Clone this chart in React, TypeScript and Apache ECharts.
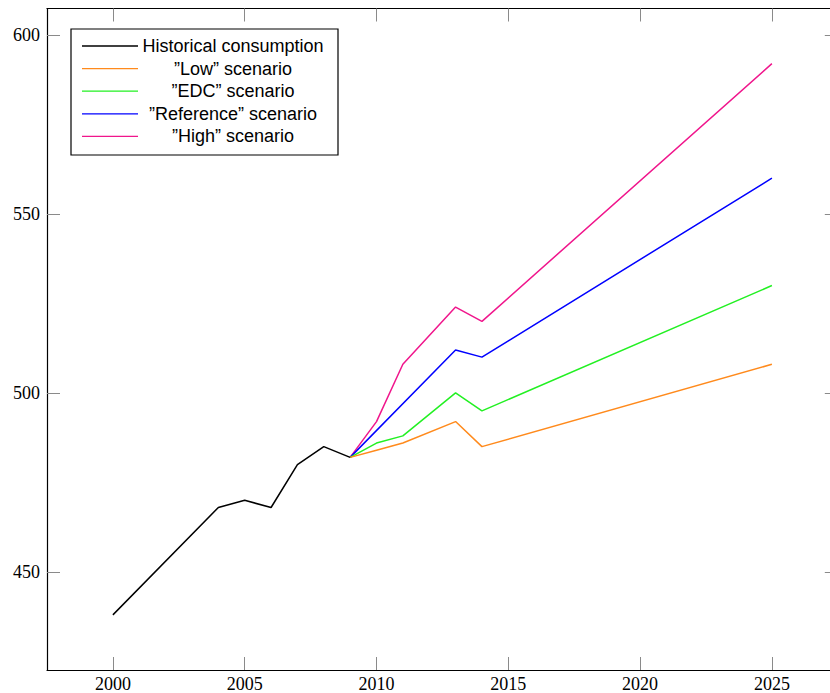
import React, { useEffect, useRef } from "react";
import * as echarts from "echarts";

const historicalYears = [2000, 2004, 2005, 2006, 2007, 2008, 2009];
const historicalValues = [438, 468, 470, 468, 480, 485, 482];

const lowYears = [2009, 2010, 2011, 2013, 2014, 2025];
const lowValues = [482, 484, 486, 492, 485, 508];

const edcYears = [2009, 2010, 2011, 2013, 2014, 2025];
const edcValues = [482, 486, 488, 500, 495, 530];

const refYears = [2009, 2013, 2014, 2025];
const refValues = [482, 512, 510, 560];

const highYears = [2009, 2010, 2011, 2013, 2014, 2025];
const highValues = [482, 492, 508, 524, 520, 592];

const xTicks = [2000, 2005, 2010, 2015, 2020, 2025];
const yTicks = [450, 500, 550, 600];

const seriesNames = [
  "Historical consumption",
  "\u201DLow\u201D scenario",
  "\u201DEDC\u201D scenario",
  "\u201DReference\u201D scenario",
  "\u201DHigh\u201D scenario",
];
const seriesColors = ["#000000", "#ff8a1c", "#22f022", "#0000ff", "#f0168c"];

const pairs = (xs: number[], ys: number[]) => xs.map((x, i) => [x, ys[i]]);

export default function App() {
  const ref = useRef<HTMLDivElement>(null);
  useEffect(() => {
    if (!ref.current) return;
    const chart = echarts.init(ref.current, undefined, { renderer: "svg" });
    const xMin = 1997.5;
    const xMax = 2027.5;
    const yMin = 422.6;
    const yMax = 607.4;
    const tickStyle = { color: "#8a8a8a", width: 1 };
    const datasets = [
      pairs(historicalYears, historicalValues),
      pairs(lowYears, lowValues),
      pairs(edcYears, edcValues),
      pairs(refYears, refValues),
      pairs(highYears, highValues),
    ];
    const legendX = 71;
    const legendY = 29;
    const rowH = 22.6;
    const legendGraphics: any[] = [
      {
        type: "rect",
        shape: { x: legendX, y: legendY, width: 267, height: 126 },
        style: { fill: "#fff", stroke: "#000", lineWidth: 1.2 },
        z: 100,
      },
    ];
    seriesNames.forEach((name, i) => {
      const cy = legendY + 17 + i * rowH;
      legendGraphics.push({
        type: "line",
        shape: { x1: 82, y1: cy, x2: 138, y2: cy },
        style: { stroke: seriesColors[i], lineWidth: 1.3 },
        z: 101,
      });
      legendGraphics.push({
        type: "text",
        x: 233,
        y: cy,
        style: {
          text: name,
          fill: "#000",
          font: "18px 'Liberation Sans', Arial, sans-serif",
          textAlign: "center",
          textVerticalAlign: "middle",
        },
        z: 101,
      });
    });
    chart.setOption({
      animation: false,
      backgroundColor: "#fff",
      grid: { left: 47, top: 8.5, width: 790.8, height: 662.8, containLabel: false },
      xAxis: [
        {
          type: "value",
          min: xMin,
          max: xMax,
          position: "bottom",
          axisLine: { show: true, onZero: false, lineStyle: { color: "#000", width: 1.2 } },
          axisTick: { show: true, inside: true, length: 13, customValues: xTicks, lineStyle: tickStyle },
          axisLabel: {
            show: true,
            customValues: xTicks,
            margin: 5,
            color: "#000",
            fontFamily: "'Liberation Serif', 'Times New Roman', serif",
            fontSize: 18,
            formatter: (v: number) => String(v),
          },
          splitLine: { show: false },
        },
        {
          type: "value",
          min: xMin,
          max: xMax,
          position: "top",
          axisLine: { show: true, onZero: false, lineStyle: { color: "#000", width: 1.2 } },
          axisTick: { show: true, inside: true, length: 13, customValues: xTicks, lineStyle: tickStyle },
          axisLabel: { show: false },
          splitLine: { show: false },
        },
      ],
      yAxis: [
        {
          type: "value",
          min: yMin,
          max: yMax,
          position: "left",
          axisLine: { show: true, onZero: false, lineStyle: { color: "#000", width: 1.2 } },
          axisTick: { show: true, inside: true, length: 13, customValues: yTicks, lineStyle: tickStyle },
          axisLabel: {
            show: true,
            customValues: yTicks,
            margin: 7,
            color: "#000",
            fontFamily: "'Liberation Serif', 'Times New Roman', serif",
            fontSize: 18,
            formatter: (v: number) => String(v),
          },
          splitLine: { show: false },
        },
        {
          type: "value",
          min: yMin,
          max: yMax,
          position: "right",
          axisLine: { show: true, onZero: false, lineStyle: { color: "#000", width: 1.2 } },
          axisTick: { show: true, inside: true, length: 13, customValues: yTicks, lineStyle: tickStyle },
          axisLabel: { show: false },
          splitLine: { show: false },
        },
      ],
      series: seriesNames.map((name, i) => ({
        name,
        type: "line",
        data: datasets[i],
        xAxisIndex: 0,
        yAxisIndex: 0,
        showSymbol: false,
        symbol: "none",
        lineStyle: { color: seriesColors[i], width: 1.5 },
        itemStyle: { color: seriesColors[i] },
        z: 10 - i,
      })),
      graphic: legendGraphics,
    });
    return () => chart.dispose();
  }, []);
  return (
    <div style={{ position: "fixed", left: 0, top: 0, width: 830, height: 693, overflow: "hidden", background: "#fff" }}>
      <div ref={ref} style={{ width: 846, height: 693 }} />
    </div>
  );
}
